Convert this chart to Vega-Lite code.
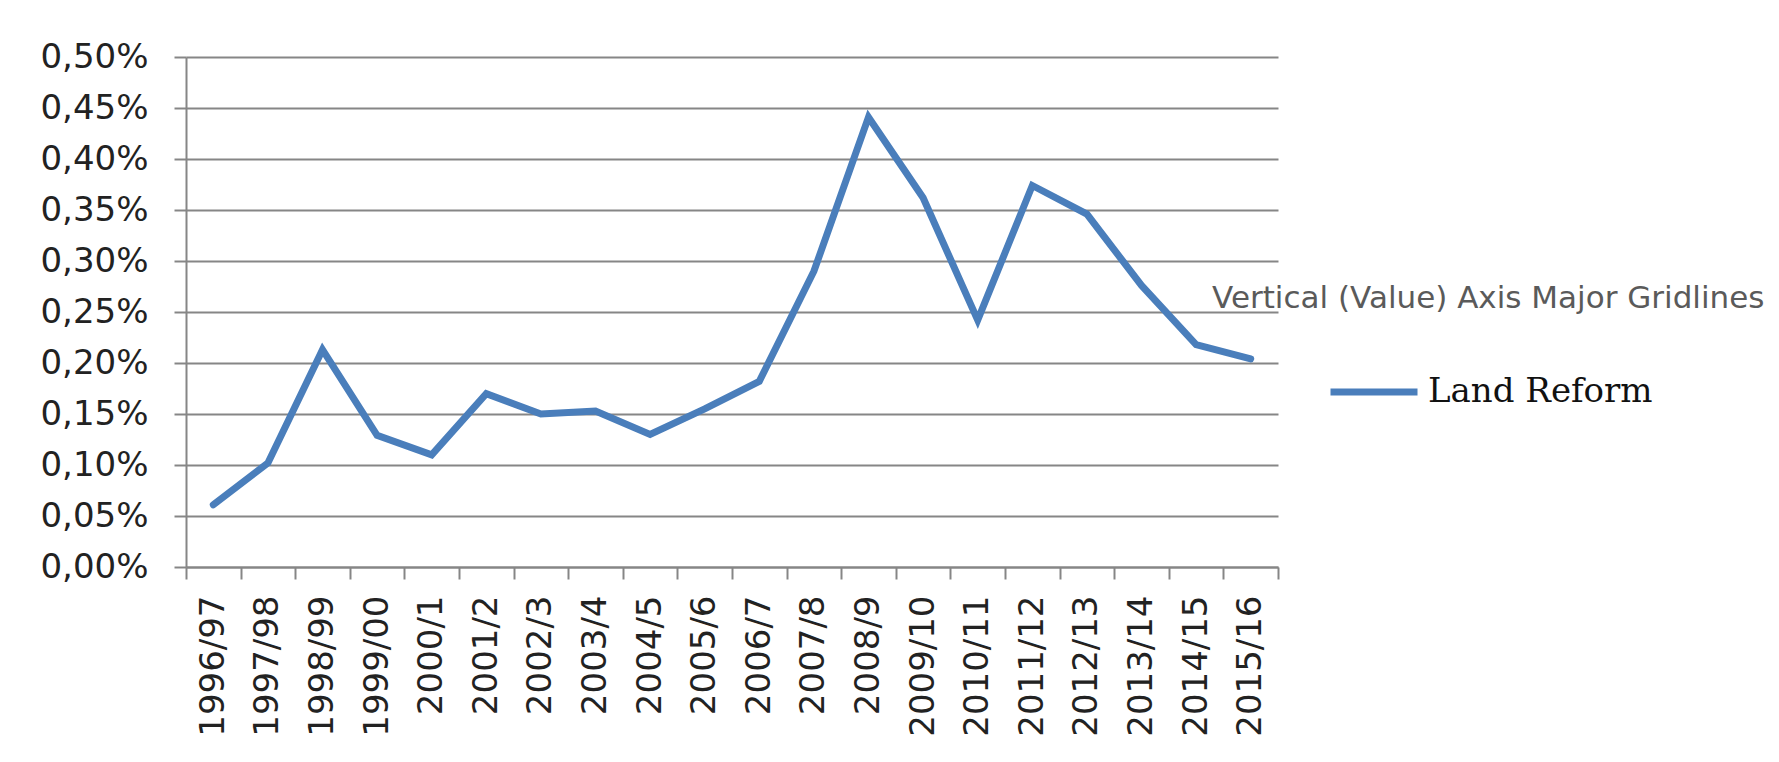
{
  "$schema": "https://vega.github.io/schema/vega-lite/v6.json",
  "width": 1092,
  "height": 510,
  "autosize": {"type": "none"},
  "padding": {"left": 186, "top": 57, "right": 501, "bottom": 195},
  "background": "white",
  "config": {"view": {"stroke": null}},
  "data": {
    "values": [
      {"year": "1996/97", "value": 0.061, "series": "Land Reform"},
      {"year": "1997/98", "value": 0.102, "series": "Land Reform"},
      {"year": "1998/99", "value": 0.213, "series": "Land Reform"},
      {"year": "1999/00", "value": 0.129, "series": "Land Reform"},
      {"year": "2000/1", "value": 0.110, "series": "Land Reform"},
      {"year": "2001/2", "value": 0.170, "series": "Land Reform"},
      {"year": "2002/3", "value": 0.150, "series": "Land Reform"},
      {"year": "2003/4", "value": 0.153, "series": "Land Reform"},
      {"year": "2004/5", "value": 0.130, "series": "Land Reform"},
      {"year": "2005/6", "value": 0.155, "series": "Land Reform"},
      {"year": "2006/7", "value": 0.182, "series": "Land Reform"},
      {"year": "2007/8", "value": 0.290, "series": "Land Reform"},
      {"year": "2008/9", "value": 0.441, "series": "Land Reform"},
      {"year": "2009/10", "value": 0.362, "series": "Land Reform"},
      {"year": "2010/11", "value": 0.242, "series": "Land Reform"},
      {"year": "2011/12", "value": 0.374, "series": "Land Reform"},
      {"year": "2012/13", "value": 0.346, "series": "Land Reform"},
      {"year": "2013/14", "value": 0.276, "series": "Land Reform"},
      {"year": "2014/15", "value": 0.218, "series": "Land Reform"},
      {"year": "2015/16", "value": 0.204, "series": "Land Reform"}
    ]
  },
  "layer": [
    {
      "mark": {"type": "line", "strokeWidth": 7, "strokeCap": "round", "strokeJoin": "miter"},
      "encoding": {
        "x": {
          "field": "year", "type": "nominal", "sort": null,
          "scale": {"type": "band", "paddingInner": 0, "paddingOuter": 0},
          "axis": {
            "title": null, "grid": false, "tickBand": "extent",
            "domainColor": "#868686", "domainWidth": 2,
            "tickColor": "#868686", "tickWidth": 2, "tickSize": 12,
            "labelAngle": -90, "labelFont": "DejaVu Sans", "labelFontSize": 34,
            "labelColor": "#222222", "labelPadding": 16
          }
        },
        "y": {
          "field": "value", "type": "quantitative",
          "scale": {"domain": [0, 0.5], "nice": false},
          "axis": {
            "title": null,
            "values": [0, 0.05, 0.1, 0.15, 0.2, 0.25, 0.3, 0.35, 0.4, 0.45, 0.5],
            "labelExpr": "replace(format(datum.value, '.2f'), '.', ',') + '%'",
            "grid": true, "gridColor": "#868686", "gridWidth": 2,
            "domainColor": "#868686", "domainWidth": 2,
            "tickColor": "#868686", "tickWidth": 2, "tickSize": 12,
            "labelFont": "DejaVu Sans", "labelFontSize": 34,
            "labelColor": "#222222", "labelPadding": 26
          }
        },
        "color": {
          "field": "series", "type": "nominal",
          "scale": {"range": ["#4A7EBB"]},
          "legend": {
            "title": null, "orient": "none", "legendX": 1141, "legendY": 288,
            "symbolType": "stroke", "symbolStrokeWidth": 7, "symbolSize": 7569,
            "labelFont": "DejaVu Serif", "labelFontSize": 34, "labelLimit": 500,
            "labelColor": "#111111", "labelOffset": 7
          }
        }
      }
    },
    {
      "data": {"values": [{"year": "2014/15", "value": 0.254, "label": "Vertical (Value) Axis Major Gridlines"}]},
      "mark": {"type": "text", "align": "left", "baseline": "alphabetic", "dx": 16, "font": "DejaVu Sans", "fontSize": 31, "color": "#5a5a5a"},
      "encoding": {
        "x": {"field": "year", "type": "nominal"},
        "y": {"field": "value", "type": "quantitative"},
        "text": {"field": "label"}
      }
    }
  ]
}
